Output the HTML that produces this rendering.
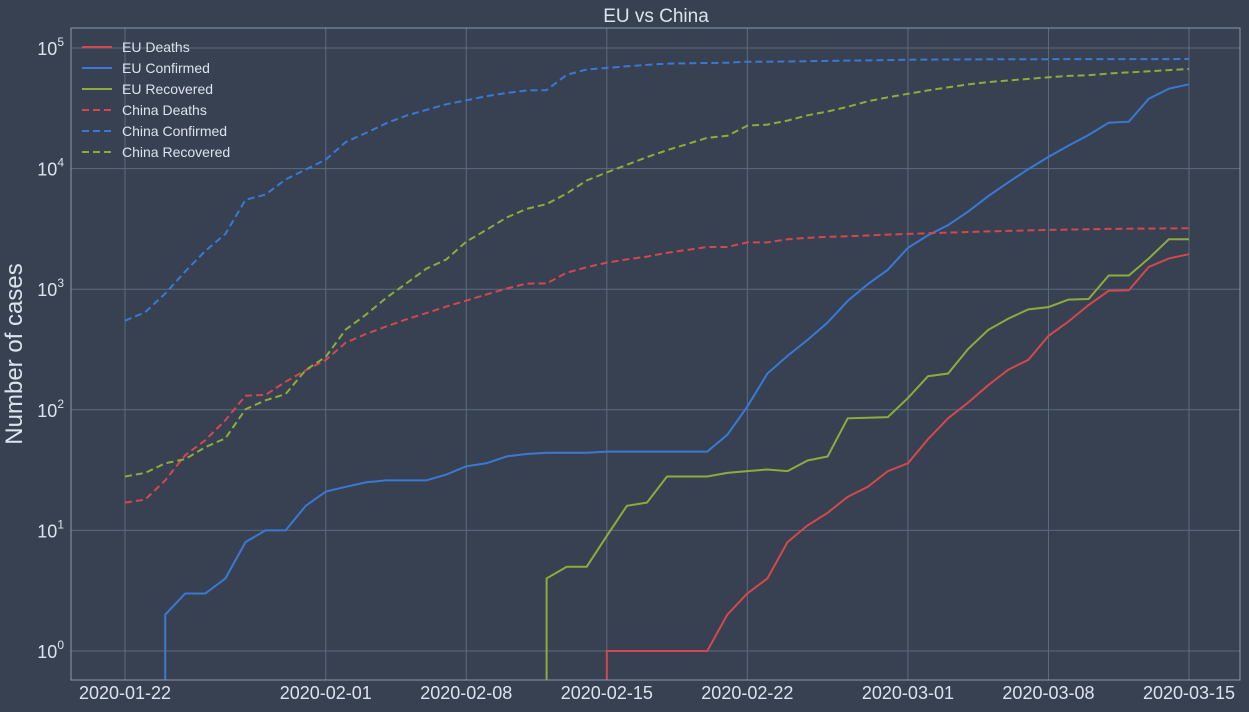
<!DOCTYPE html>
<html><head><meta charset="utf-8">
<style>
html,body{margin:0;padding:0;background:#374151;width:1249px;height:712px;overflow:hidden;}
body{font-family:"Liberation Sans",sans-serif;}
svg{display:block;position:absolute;left:0;top:0;}
svg text{font-family:"Liberation Sans",sans-serif;fill:#dce3ee;}
</style></head>
<body>
<svg id="chart" width="1249" height="712" xmlns="http://www.w3.org/2000/svg" overflow="hidden">
<rect x="0" y="0" width="1249" height="712" fill="#374151"/>
<g id="grid"></g>
<g id="series" clip-path="url(#clip)"></g>
<defs><clipPath id="clip"><rect x="71" y="28" width="1169" height="652"/></clipPath></defs>
<rect x="71" y="28" width="1169" height="652" fill="none" stroke="#8a98b0" stroke-width="1"/>
<g id="axes"></g>
<text x="656" y="22" text-anchor="middle" font-size="19">EU vs China</text>
<text x="22" y="354" text-anchor="middle" font-size="24" transform="rotate(-90 22 354)">Number of cases</text>
<g id="legend"></g>
</svg>
<script>
const xTickDays = [0,10,17,24,31,39,46,53];
const xTickLabels = ["2020-01-22","2020-02-01","2020-02-08","2020-02-15","2020-02-22","2020-03-01","2020-03-08","2020-03-15"];
const yTickExps = [0,1,2,3,4,5];
const euDeaths = [0,0,0,0,0,0,0,0,0,0,0,0,0,0,0,0,0,0,0,0,0,0,0,0,1,1,1,1,1,1,2,3,4,8,11,14,19,23,31,36,57,85,115,160,215,260,410,540,740,970,980,1530,1800,1950];
const euConfirmed = [0,0,2,3,3,4,8,10,10,16,21,23,25,26,26,26,29,34,36,41,43,44,44,44,45,45,45,45,45,45,62,106,200,280,380,530,800,1100,1450,2200,2800,3400,4400,5900,7700,9900,12500,15500,19000,24000,24500,38000,46000,50000];
const euRecovered = [0,0,0,0,0,0,0,0,0,0,0,0,0,0,0,0,0,0,0,0,0,4,5,5,9,16,17,28,28,28,30,31,32,31,38,41,85,86,87,125,190,200,320,460,570,680,710,820,830,1300,1300,1800,2600,2600];
const chinaDeaths = [17,18,26,42,56,82,131,133,171,213,259,361,425,490,562,632,717,804,904,1011,1112,1117,1369,1521,1663,1766,1864,2003,2116,2238,2238,2443,2445,2595,2665,2717,2746,2790,2837,2872,2914,2947,2983,3015,3044,3072,3100,3123,3139,3161,3172,3180,3193,3203];
const chinaConfirmed = [548,643,920,1406,2075,2877,5509,6087,8141,9802,11891,16630,19716,23707,27440,30587,34110,36814,39829,42354,44386,44759,59895,66358,68413,70513,72434,74211,74619,75077,75550,77001,77022,77241,77754,78166,78600,78928,79356,79932,80136,80261,80386,80537,80690,80770,80823,80860,80887,80921,80932,80945,80977,81003];
const chinaRecovered = [28,30,36,39,49,58,101,120,135,214,275,463,614,843,1115,1476,1763,2483,3100,3924,4636,5079,6213,7973,9294,10748,12455,14199,15952,18002,18693,22687,23170,24990,27650,29775,32531,36157,39049,41675,44518,47260,49914,52109,53793,55477,57143,58684,59433,61475,62793,64111,65541,67017];

const NS="http://www.w3.org/2000/svg";
const X = d => 125 + d*(1189-125)/53;
const Y = v => { const lv = v>0 ? Math.log10(v) : -0.6; return 651 - lv*120.6; };
function mk(tag, attrs, parent){const e=document.createElementNS(NS,tag);for(const k in attrs)e.setAttribute(k,attrs[k]);parent.appendChild(e);return e;}
const grid=document.getElementById('grid'), axes=document.getElementById('axes');
xTickDays.forEach((d,i)=>{
  const l=mk('line',{x1:X(d),x2:X(d),y1:28,y2:680,stroke:'#5d6a80','stroke-width':1},grid);
  
  
  const t=mk('text',{x:X(d),y:699,'text-anchor':'middle','font-size':18},axes);
  t.textContent=xTickLabels[i];
  
  
});
yTickExps.forEach(e=>{
  const y=Y(Math.pow(10,e));
  const l=mk('line',{x1:71,x2:1240,y1:y,y2:y,stroke:'#5d6a80','stroke-width':1},grid);
  
  
  const t=mk('text',{x:64,y:y+7,'text-anchor':'end','font-size':18},axes);
  t.innerHTML='10<tspan font-size="12" dy="-9">'+e+'</tspan>';
  
  
});
const RED='#d5474e', BLUE='#3b78d4', GREEN='#8cad3c';
const series=[
  ['EU Deaths',euDeaths,RED,false],
  ['EU Confirmed',euConfirmed,BLUE,false],
  ['EU Recovered',euRecovered,GREEN,false],
  ['China Deaths',chinaDeaths,RED,true],
  ['China Confirmed',chinaConfirmed,BLUE,true],
  ['China Recovered',chinaRecovered,GREEN,true]
];
const sg=document.getElementById('series'), lg=document.getElementById('legend');
series.forEach((s,i)=>{
  let pts=[];
  s[1].forEach((v,d)=>{
    if(v<=0){ if(d+1<s[1].length && s[1][d+1]>0){ pts.push(X(d+1).toFixed(1)+','+Y(0).toFixed(1)); } return; }
    pts.push(X(d).toFixed(1)+','+Y(v).toFixed(1));
  });
  const p=mk('polyline',{points:pts.join(' '),fill:'none',stroke:s[2],'stroke-width':2,'stroke-dasharray':s[3]?'7,4':'none'},sg);
  
  
  const ly=47+i*21;
  const ll=mk('line',{x1:82,x2:112,y1:ly,y2:ly,stroke:s[2],'stroke-width':2,'stroke-dasharray':s[3]?'7,4':'none'},lg);
  
  
  const lt=mk('text',{x:122,y:ly+5,'font-size':14},lg);
  lt.textContent=s[0];
  
  
});
</script>
</body></html>
